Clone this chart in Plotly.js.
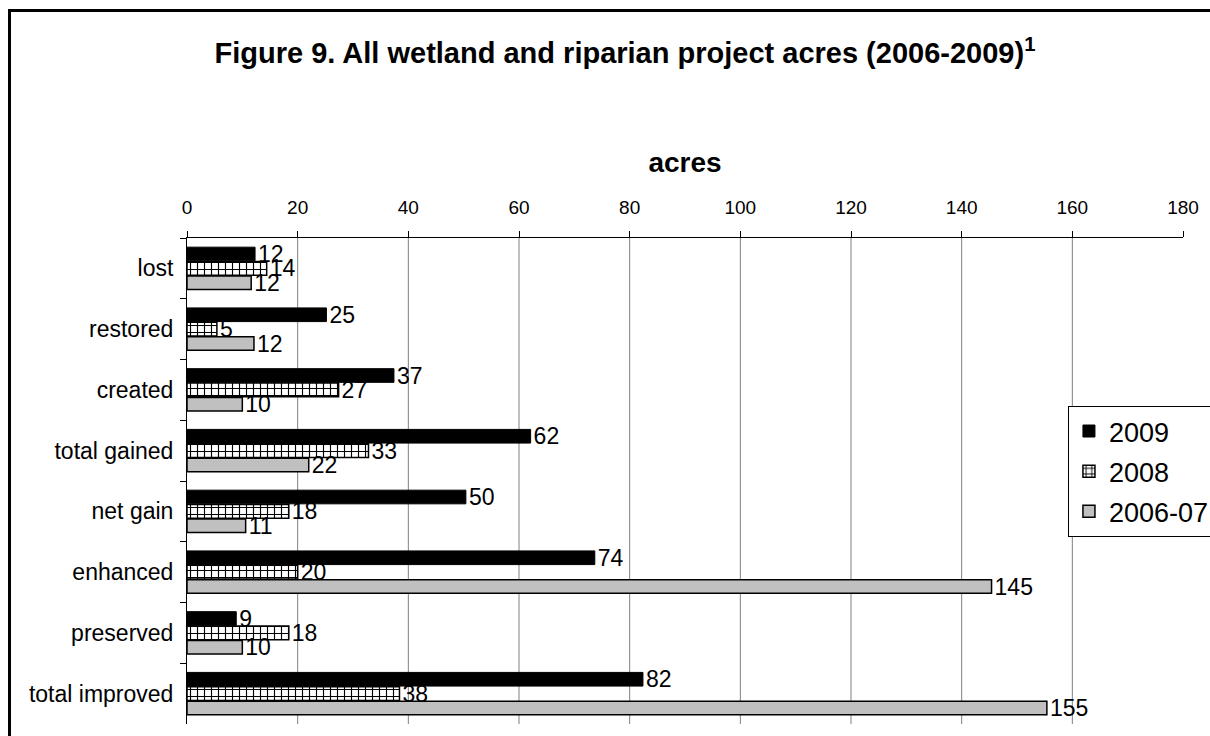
<!DOCTYPE html>
<html>
<head>
<meta charset="utf-8">
<script src="https://cdn.plot.ly/plotly-3.0.1.min.js"></script>
<style>
  html, body { margin: 0; padding: 0; background: #ffffff; }
  #wrap { position: relative; width: 1210px; height: 736px; overflow: hidden; }
  #chart { position: absolute; left: 0; top: 0; width: 1210px; height: 736px; }
  #frame { position: absolute; left: 8px; top: 9px; width: 1400px; height: 1000px;
           border-left: 3px solid #000; border-top: 3px solid #000; pointer-events: none; }
</style>
</head>
<body>
<div id="wrap">
  <div id="chart"></div>
  <div id="frame"></div>
</div>
<script>
// ---- data ----
const categories = ["lost", "restored", "created", "total gained", "net gain", "enhanced", "preserved", "total improved"];
const seriesNames = ["2009", "2008", "2006-07"];
const values2009 = [12.3, 25.2, 37.4, 62.1, 50.4, 73.7, 8.9, 82.4];
const values2008 = [14.4, 5.4, 27.4, 32.8, 18.4, 20.0, 18.4, 38.4];
const values200607 = [11.6, 12.1, 10.0, 22.0, 10.6, 145.4, 10.0, 155.4];
const xTickVals = [0, 20, 40, 60, 80, 100, 120, 140, 160, 180];
const gridVals = [20, 40, 60, 80, 100, 120, 140, 160];

const FONT = "Liberation Sans, Arial, Helvetica, sans-serif";

function barTrace(name, vals, marker) {
  return {
    type: "bar",
    orientation: "h",
    name: name,
    legendgroup: name,
    y: categories,
    x: vals,
    marker: marker,
    texttemplate: "%{x:.0f}",
    textposition: "outside",
    textfont: { family: FONT, size: 23, color: "#000" },
    constraintext: "none",
    cliponaxis: false,
    hoverinfo: "x+y+name"
  };
}

const traces = [
  barTrace(seriesNames[0], values2009, { color: "#000000", line: { color: "#000000", width: 1 } }),
  barTrace(seriesNames[1], values2008, {
    color: "#ffffff",
    pattern: { shape: "+", fgcolor: "#000000", bgcolor: "#ffffff", size: 7, solidity: 0.3 },
    line: { color: "#000000", width: 1.5 }
  }),
  barTrace(seriesNames[2], values200607, { color: "#c0c0c0", line: { color: "#000000", width: 1.5 } })
];

const shapes = gridVals.map(v => ({
  type: "line", xref: "x", yref: "paper", x0: v, x1: v, y0: 0, y1: 1,
  layer: "below", line: { color: "#808080", width: 1 }
}));

const layout = {
  width: 1210,
  height: 736,
  margin: { l: 187, r: 27, t: 238, b: 12, autoexpand: false },
  paper_bgcolor: "#ffffff",
  plot_bgcolor: "#ffffff",
  font: { family: FONT, color: "#000" },
  title: {
    text: "Figure 9. All wetland and riparian project acres (2006-2009)<sup>1</sup>",
    font: { family: FONT, size: 29, weight: "bold", color: "#000" },
    xref: "container", x: 0.5165, xanchor: "center",
    yref: "container", y: 0.928, yanchor: "middle"
  },
  barmode: "group",
  bargap: 0.29,
  bargroupgap: 0.05,
  showlegend: true,
  legend: {
    xref: "container", yref: "container",
    x: 0.8826, y: 0.4484, xanchor: "left", yanchor: "top",
    bgcolor: "#ffffff", bordercolor: "#000000", borderwidth: 1,
    font: { family: FONT, size: 27, color: "#000" },
    traceorder: "grouped", tracegroupgap: 2
  },
  xaxis: {
    side: "top",
    range: [0, 180],
    tickmode: "array",
    tickvals: xTickVals,
    showgrid: false,
    zeroline: false,
    showline: true, linecolor: "#000", linewidth: 1,
    ticks: "outside", ticklen: 6, tickcolor: "#000", tickwidth: 1,
    tickfont: { family: FONT, size: 19, color: "#000" },
    ticklabelstandoff: 9,
    automargin: false,
    title: { text: "acres", font: { family: FONT, size: 28, weight: "bold", color: "#000" }, standoff: 16 }
  },
  yaxis: {
    type: "category",
    autorange: "reversed",
    showgrid: false,
    zeroline: false,
    showline: true, linecolor: "#000", linewidth: 1,
    ticks: "outside", ticklen: 6, tickcolor: "#000", tickwidth: 1,
    tickson: "boundaries",
    tickfont: { family: FONT, size: 23, color: "#000" },
    ticklabelstandoff: 8,
    automargin: false
  },
  shapes: shapes
};

Plotly.newPlot("chart", traces, layout, { displayModeBar: false, responsive: false });
</script>
</body>
</html>
